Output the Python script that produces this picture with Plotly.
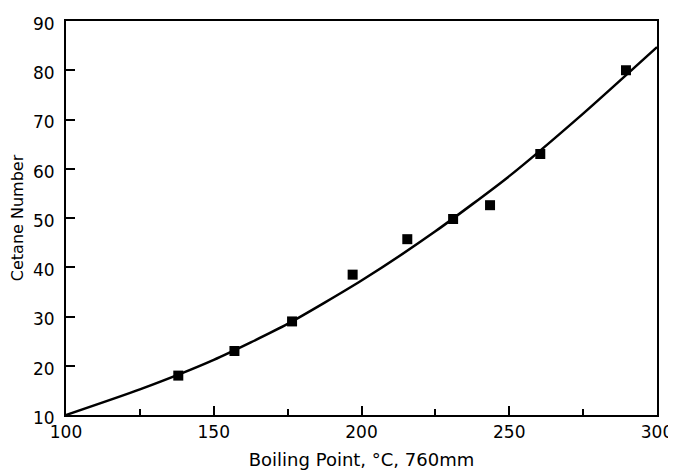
import plotly.graph_objects as go

# Measured data points (boiling point °C, cetane number)
bp_points = [138, 157, 176.5, 197, 215.5, 231, 243.5, 260.5, 289.5]
cn_points = [18, 23, 29, 38.5, 45.7, 49.8, 52.6, 63, 80]

# Fitted curve
bp_curve = [100, 125, 150, 175, 200, 225, 250, 275, 300]
cn_curve = [10, 15.2, 21.2, 28.5, 37.3, 47.3, 58.5, 71.2, 84.7]

x_ticks = [100, 150, 200, 250, 300]
x_minor = [125, 175, 225, 275]
y_ticks = [10, 20, 30, 40, 50, 60, 70, 80, 90]

font_family = "DejaVu Sans"

fig = go.Figure()
fig.add_trace(go.Scatter(x=bp_curve, y=cn_curve, mode="lines",
                         line=dict(color="black", width=2.5, shape="spline", smoothing=0.6),
                         showlegend=False, hoverinfo="skip"))
fig.add_trace(go.Scatter(x=bp_points, y=cn_points, mode="markers",
                         marker=dict(symbol="square", size=10, color="black"),
                         showlegend=False))

fig.update_layout(
    width=668, height=462,
    margin=dict(l=58, r=19, t=13, b=55),
    plot_bgcolor="white", paper_bgcolor="white",
    font=dict(family=font_family, color="black", size=17),
    xaxis=dict(range=[100, 300], tickvals=x_ticks, ticktext=[str(v) for v in x_ticks],
               ticks="inside", ticklen=9, tickwidth=1.5, tickcolor="black",
               minor=dict(tickvals=x_minor, ticks="inside", ticklen=6,
                          tickwidth=1.5, tickcolor="black", showgrid=False),
               showline=True, linecolor="black", linewidth=2, mirror=True,
               showgrid=False, zeroline=False, automargin=False,
               tickfont=dict(size=17), ticklabelstandoff=1,
               title=dict(text="Boiling Point, °C, 760mm", font=dict(size=18))),
    yaxis=dict(range=[10, 90], tickvals=y_ticks, ticktext=[str(v) for v in y_ticks],
               ticks="inside", ticklen=9, tickwidth=1.5, tickcolor="black",
               showline=True, linecolor="black", linewidth=2, mirror=True,
               showgrid=False, zeroline=False, automargin=False,
               tickfont=dict(size=17), ticklabelstandoff=6, ticklabelshift=3,
               title=dict(text="Cetane Number", font=dict(size=16))),
)

fig.write_html("out.html")
